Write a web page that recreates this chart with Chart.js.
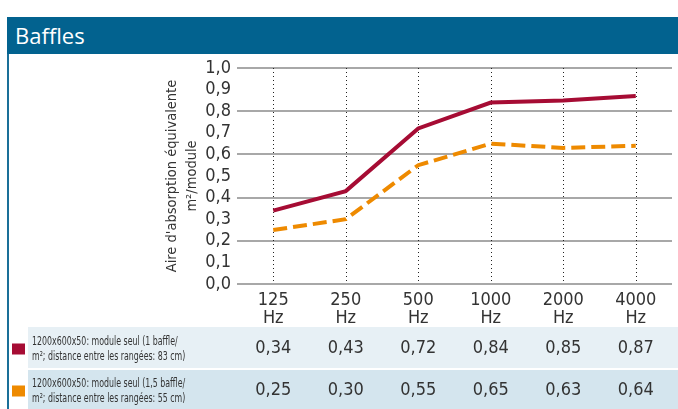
<!DOCTYPE html>
<html>
<head>
<meta charset="utf-8">
<script src="https://cdn.jsdelivr.net/npm/chart.js@4"></script>
<style>
  html, body { margin: 0; padding: 0; background: #fff; }
  #wrap { position: relative; width: 678px; height: 409px; overflow: hidden; }
  #header {
    position: absolute; left: 7px; top: 17px; width: 671px; height: 37px;
    background: #02628f; color: #fff;
    font: 22px "Open Sans", "Noto Sans", sans-serif; line-height: 37px;
    padding-left: 8px; box-sizing: border-box;
  }
  #border { position: absolute; left: 7px; top: 54px; width: 2px; height: 355px; background: #1a6f98; }
  canvas { position: absolute; left: 0; top: 0; }
</style>
</head>
<body>
<div id="wrap">
  <canvas id="bafflesChart" width="678" height="409"></canvas>
  <div id="header">Baffles</div>
  <div id="border"></div>
</div>
<script>
// Data
const frequencies = ['125', '250', '500', '1000', '2000', '4000'];
const seriesLabels = [
    ['1200x600x50: module seul (1 baffle/', 'm²; distance entre les rangées: 83 cm)'],
    ['1200x600x50: module seul (1,5 baffle/', 'm²; distance entre les rangées: 55 cm)']
];
const singleBaffle = [0.34, 0.43, 0.72, 0.84, 0.85, 0.87];
const oneHalfBaffle = [0.25, 0.30, 0.55, 0.65, 0.63, 0.64];
const yTicks = [0, 0.1, 0.2, 0.3, 0.4, 0.5, 0.6, 0.7, 0.8, 0.9, 1.0];

const FONT = '"Liberation Sans Narrow", "DejaVu Sans Condensed", sans-serif';
const RED = '#a60c34';
const ORANGE = '#ee8a00';

function fmt(v, digits) {
    return v.toFixed(digits).replace('.', ',');
}

// Table with the values below the chart, aligned on the x scale
const valueTable = {
    id: 'valueTable',
    afterDraw(chart) {
        const ctx = chart.ctx;
        const x = chart.scales.x;
        const rows = [
            { data: singleBaffle, color: RED, bg: '#e7f0f5', top: 327, h: 41 },
            { data: oneHalfBaffle, color: ORANGE, bg: '#d4e5ee', top: 370, h: 39 }
        ];
        ctx.save();
        rows.forEach((row, i) => {
            ctx.fillStyle = row.bg;
            ctx.fillRect(28, row.top, 650, row.h);
            const mid = row.top + row.h / 2;
            ctx.fillStyle = row.color;
            ctx.fillRect(12, mid - 4, 13, 11);
            ctx.fillStyle = '#333';

            // narrow label text
            ctx.save();
            ctx.translate(32, mid);
            ctx.scale(0.7, 1);
            ctx.font = '12.5px ' + FONT;
            ctx.textAlign = 'left';
            ctx.textBaseline = 'middle';
            ctx.fillText(seriesLabels[i][0], 0, -6);
            ctx.fillText(seriesLabels[i][1], 0, 9);
            ctx.restore();

            ctx.font = '18px ' + FONT;
            ctx.textAlign = 'center';
            ctx.textBaseline = 'middle';
            row.data.forEach((v, j) => {
                ctx.fillText(fmt(v, 2), x.getPixelForValue(j), mid + 1);
            });
        });
        ctx.restore();
    }
};

new Chart(document.getElementById('bafflesChart').getContext('2d'), {
    type: 'line',
    data: {
        labels: frequencies.map(f => [f, 'Hz']),
        datasets: [{
            label: seriesLabels[0].join(' '),
            data: singleBaffle,
            borderColor: RED,
            borderWidth: 4,
            pointRadius: 0,
            tension: 0,
            fill: false
        }, {
            label: seriesLabels[1].join(' '),
            data: oneHalfBaffle,
            borderColor: ORANGE,
            borderWidth: 4,
            borderDash: [14, 6],
            pointRadius: 0,
            tension: 0,
            fill: false
        }]
    },
    options: {
        responsive: false,
        animation: false,
        layout: { padding: { left: 158, right: 6, top: 68, bottom: 81 } },
        plugins: {
            legend: { display: false },
            title: { display: false },
            tooltip: { enabled: false }
        },
        scales: {
            x: {
                offset: true,
                afterFit(s) { s.height = 44; },
                grid: { display: false, drawTicks: false },
                border: { display: false },
                ticks: {
                    color: '#333',
                    padding: 7,
                    font: { family: FONT, size: 18, lineHeight: 1 }
                }
            },
            y: {
                min: 0,
                max: 1,
                afterFit(s) { s.width = 79; },
                afterBuildTicks(s) { s.ticks = yTicks.map(v => ({ value: v })); },
                grid: {
                    drawTicks: false,
                    color: ctx => Math.round(ctx.tick.value * 10) % 2 === 0 ? '#a8a8a8' : 'rgba(0,0,0,0)',
                    lineWidth: 2
                },
                border: { display: false },
                ticks: {
                    autoSkip: false,
                    color: '#333',
                    padding: 6,
                    font: { family: FONT, size: 18 },
                    callback: v => fmt(v, 1)
                },
                title: {
                    display: true,
                    text: ["Aire d'absorption équivalente", 'm²/module'],
                    color: '#333',
                    padding: { top: 4, bottom: 0 },
                    font: { family: FONT, size: 14.5, lineHeight: 1.38 }
                }
            }
        }
    },
    plugins: [{
        // dotted vertical guides at each frequency
        id: 'dottedGuides',
        beforeDatasetsDraw(chart) {
            const { ctx, chartArea, scales: { x } } = chart;
            ctx.save();
            ctx.strokeStyle = '#222';
            ctx.lineWidth = 1;
            ctx.setLineDash([1, 3]);
            frequencies.forEach((f, i) => {
                const px = Math.round(x.getPixelForValue(i)) + 0.5;
                ctx.beginPath();
                ctx.moveTo(px, chartArea.top);
                ctx.lineTo(px, chartArea.bottom);
                ctx.stroke();
            });
            ctx.restore();
        }
    }, valueTable]
});
</script>
</body>
</html>
